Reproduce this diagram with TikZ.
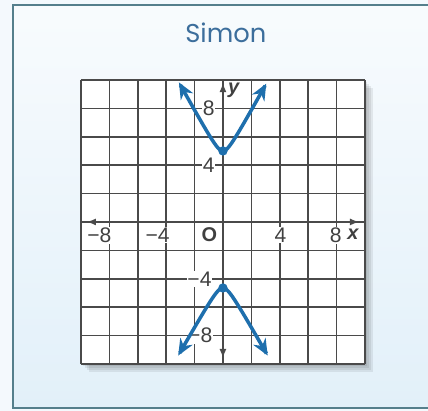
\documentclass[tikz,border=0pt]{standalone}
\usepackage{fontspec}
\setmainfont{Liberation Sans}
\newfontfamily\handfont{Poppins}
\usetikzlibrary{arrows.meta}
\definecolor{curveblue}{HTML}{1E6FAD}
\definecolor{framegray}{HTML}{557F8C}
\definecolor{gridgray}{HTML}{4A4A4A}
\definecolor{titleblue}{HTML}{3C6E9C}
\definecolor{paper}{HTML}{E2F0F9}

\begin{document}
\begin{tikzpicture}[
    x=0.426cm, y=0.426cm,
    lbl/.style={fill=white, inner sep=0.6pt, font=\fontsize{18}{20}\selectfont, text=black!75},
    axislbl/.style={inner sep=0.5pt, font=\bfseries\itshape\fontsize{17}{19}\selectfont, text=black!75},
    gridline/.style={gridgray, line width=1.3pt},
    axis/.style={gridgray, line width=1.3pt, {Latex[length=8pt,width=6pt]}-{Latex[length=8pt,width=6pt]}},
    branch/.style={curveblue, line width=3pt, {Stealth[length=14pt,width=12pt]}-{Stealth[length=14pt,width=12pt]}},
    vertex/.style={circle, fill=curveblue, inner sep=0pt, minimum size=8pt}
  ]
  \useasboundingbox (-15.70,-13.31) rectangle (14.44,15.63);

  % Paper and frame (its right side lies outside the picture)
  \fill[paper!40] (-15.70,-13.31) rectangle (14.44,15.63);
  \shade[top color=paper!25, bottom color=paper] (-14.79,-13.10) rectangle (14.44,15.28);
  \draw[framegray, line width=1.8pt] (14.44,15.28) -- (-14.79,15.28) -- (-14.79,-13.10) -- (14.44,-13.10);

  \node[text=titleblue, font=\handfont\fontsize{22}{24}\selectfont] (title) at (0.2,13.3) {Simon};

  % Grid with shadow
  \foreach \s in {0.6,0.45,0.3,0.15}
    \fill[black, opacity=0.07] (-10+\s,-10-\s) rectangle (10+\s,10-\s);
  \fill[white] (-10,-10) rectangle (10,10);
  \draw[gridline] (-10,-10) grid[step=2] (10,10);

  % Axes
  \coordinate (xl) at (-9.6,0);
  \coordinate (xr) at (9.6,0);
  \coordinate (yb) at (0,-9.6);
  \coordinate (yt) at (0,9.8);
  \draw[axis] (xl) -- (xr);
  \draw[axis] (yb) -- (yt);

  % Labels
  \node[lbl] (xm8) at (-8.7,-0.95) {−8};
  \node[lbl] (xm4) at (-4.6,-0.95) {−4};
  \node[axislbl, font=\bfseries\fontsize{17}{19}\selectfont] (orig) at (-0.95,-0.9) {O};
  \node[lbl] (xp4) at (4.05,-0.95) {4};
  \node[lbl] (xp8) at (7.95,-0.95) {8};
  \node[axislbl] (xlab) at (9.15,-0.9) {x};
  \node[lbl] (yp8) at (-1,8) {8};
  \node[lbl] (yp4) at (-1,4) {4};
  \node[lbl] (ym4) at (-1.65,-4) {−4};
  \node[lbl] (ym8) at (-1.6,-8) {−8};
  \node[axislbl] (ylab) at (0.75,9.3) {y};

  % Branches
  \draw[branch] plot[domain=-3.1:3.05, samples=60, smooth] ({\x}, {4.19+sqrt(0.656+3.24*\x*\x)});
  \draw[branch] plot[domain=-3.15:3.15, samples=60, smooth] ({\x}, {-3.84-sqrt(0.656+3.06*\x*\x)});
  \node[vertex] (vtop) at (0,5) {};
  \node[vertex] (vbot) at (0,-4.65) {};
\end{tikzpicture}
\end{document}
